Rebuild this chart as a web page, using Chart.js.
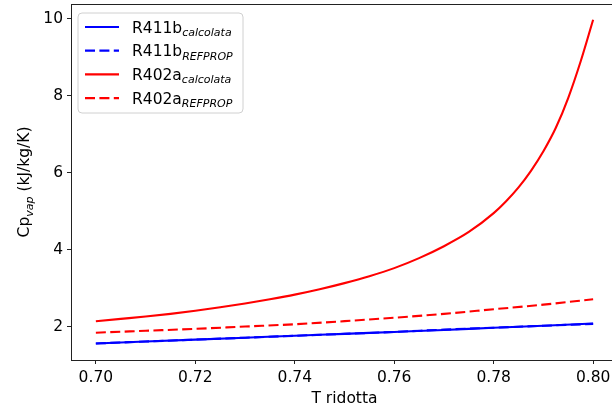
<!DOCTYPE html>
<html>
<head>
<meta charset="utf-8">
<script src="https://cdn.jsdelivr.net/npm/chart.js@4/dist/chart.umd.min.js"></script>
<style>
  html, body { margin: 0; padding: 0; background: #fff; overflow: hidden; }
  #wrap { width: 612px; height: 412px; overflow: hidden; }
  canvas { display: block; }
</style>
</head>
<body>
<div id="wrap"><canvas id="c" width="620" height="412"></canvas></div>
<script>
// Reduced temperature samples and vapour specific heat (kJ/kg/K)
const tR402aCalc = [0.700, 0.705, 0.710, 0.715, 0.720, 0.725, 0.730, 0.735, 0.740, 0.745,
                    0.750, 0.755, 0.760, 0.765, 0.770, 0.775, 0.780, 0.7825, 0.785, 0.7875,
                    0.790, 0.7925, 0.795, 0.7975, 0.800];
const cpR402aCalc = [2.14, 2.20, 2.26, 2.33, 2.41, 2.50, 2.60, 2.71, 2.83, 2.97,
                     3.13, 3.31, 3.52, 3.78, 4.09, 4.46, 4.95, 5.26, 5.62, 6.05,
                     6.56, 7.17, 7.95, 8.90, 9.98];

const tGrid = [0.70, 0.71, 0.72, 0.73, 0.74, 0.75, 0.76, 0.77, 0.78, 0.79, 0.80];
const cpR411bCalc    = [1.56, 1.61, 1.66, 1.71, 1.76, 1.81, 1.86, 1.91, 1.97, 2.02, 2.08];
const cpR411bRefprop = [1.56, 1.61, 1.66, 1.71, 1.76, 1.81, 1.86, 1.92, 1.97, 2.02, 2.07];
const cpR402aRefprop = [1.84, 1.89, 1.94, 2.00, 2.06, 2.14, 2.23, 2.33, 2.45, 2.57, 2.71];

const xTicks = [0.70, 0.72, 0.74, 0.76, 0.78, 0.80];
const xTickLabels = ['0.70', '0.72', '0.74', '0.76', '0.78', '0.80'];
const yTicks = [2, 4, 6, 8, 10];
const yTickLabels = ['2', '4', '6', '8', '10'];

const seriesNames = ['R411b', 'R411b', 'R402a', 'R402a'];
const seriesSubs  = ['calcolata', 'REFPROP', 'calcolata', 'REFPROP'];

const BLUE = '#0000ff', RED = '#ff0000';
const FONT = '"DejaVu Sans", sans-serif';
const DASH = [10, 4.4];

const pts = (xs, ys) => xs.map((x, i) => ({ x: x, y: ys[i] }));

// Frame on all four sides, legend with subscripts, rotated y-axis label
const decor = {
  id: 'decor',
  afterDraw(chart) {
    const ctx = chart.ctx;
    const a = chart.chartArea;
    ctx.save();
    ctx.strokeStyle = '#222';
    ctx.lineWidth = 1;
    ctx.strokeRect(Math.round(a.left) + 0.5, Math.round(a.top) + 0.5,
                   Math.round(a.right - a.left), Math.round(a.bottom - a.top));

    // legend box
    const bx = 78, by = 13, bw = 165, bh = 100, r = 4;
    ctx.beginPath();
    ctx.moveTo(bx + r, by);
    ctx.arcTo(bx + bw, by, bx + bw, by + bh, r);
    ctx.arcTo(bx + bw, by + bh, bx, by + bh, r);
    ctx.arcTo(bx, by + bh, bx, by, r);
    ctx.arcTo(bx, by, bx + bw, by, r);
    ctx.closePath();
    ctx.fillStyle = 'rgba(255,255,255,0.8)';
    ctx.fill();
    ctx.strokeStyle = '#d0d0d0';
    ctx.lineWidth = 1;
    ctx.stroke();

    chart.data.datasets.forEach((ds, i) => {
      const cy = 27 + i * 23.7;
      ctx.beginPath();
      ctx.setLineDash(ds.borderDash || []);
      ctx.strokeStyle = ds.borderColor;
      ctx.lineWidth = 2.2;
      ctx.moveTo(85, cy);
      ctx.lineTo(119, cy);
      ctx.stroke();
      ctx.setLineDash([]);
      ctx.fillStyle = '#000';
      ctx.textBaseline = 'alphabetic';
      ctx.textAlign = 'left';
      ctx.font = '15.5px ' + FONT;
      const base = cy + 5.5;
      ctx.fillText(seriesNames[i], 132, base);
      const w = ctx.measureText(seriesNames[i]).width;
      ctx.font = 'italic 11px ' + FONT;
      ctx.fillText(seriesSubs[i], 132 + w, base + 3.5);
    });

    // y-axis label: Cp_vap (kJ/kg/K)
    ctx.save();
    ctx.translate(25, (a.top + a.bottom) / 2);
    ctx.rotate(-Math.PI / 2);
    ctx.fillStyle = '#000';
    ctx.textBaseline = 'middle';
    ctx.font = '15.5px ' + FONT;
    const p1 = 'Cp', p3 = ' (kJ/kg/K)';
    const w1 = ctx.measureText(p1).width, w3 = ctx.measureText(p3).width;
    ctx.font = 'italic 11px ' + FONT;
    const w2 = ctx.measureText('vap').width;
    let x0 = -(w1 + w2 + w3) / 2;
    ctx.textAlign = 'left';
    ctx.font = '15.5px ' + FONT;
    ctx.fillText(p1, x0, 0);
    ctx.font = 'italic 11px ' + FONT;
    ctx.fillText('vap', x0 + w1, 5);
    ctx.font = '15.5px ' + FONT;
    ctx.fillText(p3, x0 + w1 + w2, 0);
    ctx.restore();

    ctx.restore();
  }
};

new Chart(document.getElementById('c'), {
  type: 'line',
  data: {
    datasets: [
      { label: 'R411b calcolata', data: pts(tGrid, cpR411bCalc), borderColor: BLUE },
      { label: 'R411b REFPROP', data: pts(tGrid, cpR411bRefprop), borderColor: BLUE, borderDash: DASH },
      { label: 'R402a calcolata', data: pts(tR402aCalc, cpR402aCalc), borderColor: RED },
      { label: 'R402a REFPROP', data: pts(tGrid, cpR402aRefprop), borderColor: RED, borderDash: DASH }
    ].map(d => Object.assign({
      borderWidth: 2.1, pointRadius: 0, fill: false,
      cubicInterpolationMode: 'monotone'
    }, d))
  },
  plugins: [decor],
  options: {
    responsive: false,
    animation: false,
    events: [],
    layout: { padding: { top: 4, right: 2, left: 0, bottom: 0 } },
    plugins: { legend: { display: false }, tooltip: { enabled: false } },
    scales: {
      x: {
        type: 'linear', min: 0.695, max: 0.805,
        afterBuildTicks: s => { s.ticks = xTicks.map(v => ({ value: v })); },
        afterFit: s => { s.height = 52; s.paddingLeft = 0; s.paddingRight = 0; },
        ticks: {
          color: '#000', font: { family: FONT, size: 15.5 }, padding: 5,
          maxRotation: 0, autoSkip: false,
          callback: (v, i) => xTickLabels[i]
        },
        grid: { drawOnChartArea: false, drawTicks: true, tickLength: 4, tickColor: '#222', tickWidth: 1 },
        border: { display: true, color: '#222', width: 1 },
        title: { display: true, text: 'T ridotta', color: '#000',
                 font: { family: FONT, size: 15.5 }, padding: { top: 0, bottom: 4 } }
      },
      y: {
        type: 'linear', min: 1.13, max: 10.39,
        afterBuildTicks: s => { s.ticks = yTicks.map(v => ({ value: v })); },
        afterFit: s => { s.width = 71; s.paddingTop = 0; s.paddingBottom = 0; },
        ticks: {
          color: '#000', font: { family: FONT, size: 15.5 }, padding: 4,
          autoSkip: false,
          callback: (v, i) => yTickLabels[i]
        },
        grid: { drawOnChartArea: false, drawTicks: true, tickLength: 4, tickColor: '#222', tickWidth: 1 },
        border: { display: true, color: '#222', width: 1 }
      }
    }
  }
});
</script>
</body>
</html>
